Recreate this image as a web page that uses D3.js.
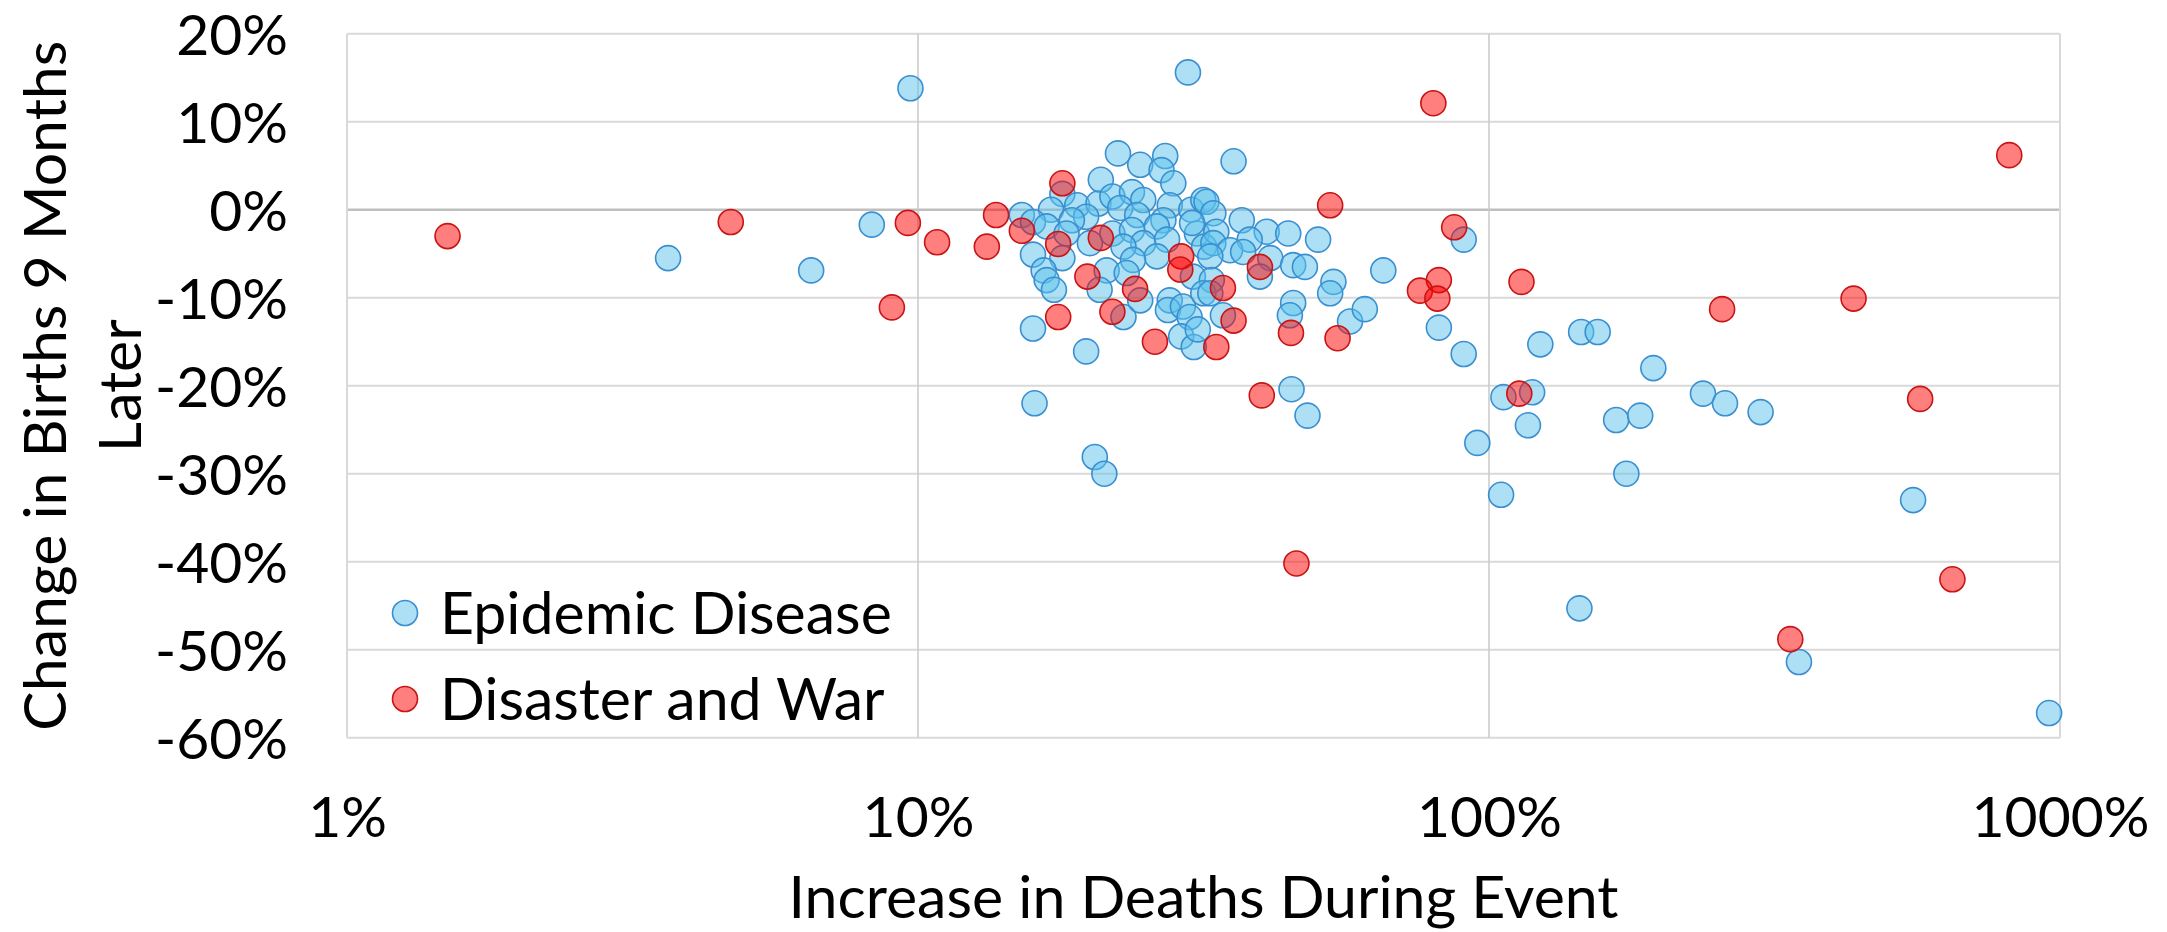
<!DOCTYPE html>
<html>
<head>
<meta charset="utf-8">
<script src="https://cdn.jsdelivr.net/npm/d3@7/dist/d3.min.js"></script>
<style>
    body { margin: 0; background: #fff; }
    text { font-family: Lato, "Open Sans", sans-serif; fill: #000; }
</style>
</head>
<body>
<div id="chart"></div>
<script>
// increase in deaths during event (%), change in births 9 months later (%)
const epidemicDeaths = [
    9.7, 8.3, 3.65, 6.5, 29.7,
    22.4, 24.5, 27.1, 26.7, 28.0, 20.9, 17.9, 19.0, 17.1, 15.2, 15.9, 20.7, 21.9, 23.7, 24.8,
    27.6, 30.1, 31.6, 22.6, 24.2, 26.9, 26.2, 19.7, 18.6, 16.8, 18.2, 21.9, 23.7, 24.8, 22.9,
    20.0, 27.3, 30.8, 31.7, 15.9, 17.9, 26.2, 23.8, 16.6, 16.8, 17.3, 21.4, 23.2, 20.8, 30.3, 27.6,
    35.7, 32.0, 32.9, 30.2, 36.9, 40.8, 44.5, 50.2, 38.1, 33.3, 32.9, 35.2, 37.1, 32.5, 41.4,
    45.4, 47.6, 53.4, 52.7, 65.3, 39.7, 32.7,
    15.9, 19.7, 16.0, 20.4, 21.2, 22.9, 24.5, 27.4, 29.1, 29.9, 28.9, 30.4, 30.9, 31.6,
    45.4, 44.8, 57.1, 60.6, 34.2, 32.5, 45.1, 48.1,
    90.3, 81.7, 90.3, 123, 145, 155, 194, 106, 119, 117, 95.4, 167, 184, 237, 259, 299,
    174, 105, 553, 144, 349, 957
];
const epidemicBirths = [
    13.8, -1.7, -5.5, -6.9, 15.6,
    6.4, 5.1, 6.1, 4.5, 3.0, 3.4, 1.8, 0.5, 0.0, -0.6, -1.4, 0.7, 1.5, 2.0, 1.1,
    0.5, 0.0, 1.1, 0.2, -0.6, -1.2, -1.9, -0.8, -1.2, -1.9, -2.7, -2.7, -2.3, -3.8, -4.2,
    -3.8, -3.4, -2.7, -4.2, -5.1, -5.5, -5.3, -5.7, -6.9, -8.0, -9.1, -6.9, -7.2, -9.1, -7.6, -10.3,
    5.5, 0.9, -0.4, -1.5, -1.2, -2.5, -2.7, -3.4, -3.4, -2.5, -3.8, -4.6, -4.8, -5.3, -5.5,
    -6.3, -6.5, -8.2, -9.5, -6.9, -7.6, -8.0,
    -13.5, -16.1, -22.0, -28.1, -30.0, -12.2, -10.3, -11.4, -11.0, -12.2, -14.4, -15.6, -13.6, -9.5,
    -10.6, -12.0, -12.7, -11.3, -12.0, -9.5, -20.4, -23.4,
    -3.4, -13.4, -16.4, -15.3, -13.9, -13.9, -18.0, -21.3, -20.75, -24.5, -26.5, -23.9, -23.4, -20.9, -22.0, -23.0,
    -30.0, -32.4, -33.0, -45.3, -51.4, -57.2
];
const disasterDeaths = [
    1.5, 4.7, 9.6, 10.8, 9.0, 13.2, 13.7, 15.2, 17.9, 17.6, 17.6, 20.9, 19.8, 24.0,
    28.9, 28.8, 21.9, 26.0, 34.2, 35.7, 33.3, 39.7, 40.0, 45.0, 52.7, 54.3, 46.0,
    79.9, 86.9, 81.7, 75.7, 81.2, 114, 113, 256, 435, 569, 815, 648, 337
];
const disasterBirths = [
    -3.0, -1.4, -1.5, -3.7, -11.1, -4.2, -0.6, -2.4, 3.0, -3.9, -12.2, -3.2, -7.6, -9.0,
    -5.3, -6.8, -11.6, -15.0, -8.9, -12.6, -15.6, -6.5, -21.1, -14.0, 0.5, -14.6, -40.2,
    12.1, -2.0, -8.0, -9.2, -10.1, -8.2, -20.9, -11.3, -10.1, -21.5, 6.2, -42.0, -48.8
];
const seriesNames = ["Epidemic Disease", "Disaster and War"];
const xTicks = [1, 10, 100, 1000];
const yTicks = [-60, -50, -40, -30, -20, -10, 0, 10, 20];
const xTitle = "Increase in Deaths During Event";
const yTitle = ["Change in Births 9 Months", "Later"];

let draw_scatter = draw_chart();
draw_scatter([
    { name: seriesNames[0], points: epidemicDeaths.map((d, i) => [d, epidemicBirths[i]]) },
    { name: seriesNames[1], points: disasterDeaths.map((d, i) => [d, disasterBirths[i]]) }
]);

function draw_chart() {
    const config = {
        width: 2167,
        height: 932,
        left: 347,
        right: 2060,
        top: 33.7,
        bottom: 737.7,
        r: 12.5,
        tickSize: 57,
        textSize: 59,
        styles: [
            { fill: "rgba(91,193,235,0.5)", stroke: "#3a8fd1" },
            { fill: "rgba(255,0,0,0.5)", stroke: "#c81414" }
        ]
    }
    const svg = d3.select("#chart")
        .append("svg")
        .attr("width", config.width)
        .attr("height", config.height)
    const g_grid = svg.append("g")
    const g_axisX = svg.append("g")
        .attr("transform", `translate(0, ${config.bottom})`)
    const g_axisY = svg.append("g")
        .attr("transform", `translate(${config.left}, 0)`)
    const g_circle = svg.append("g")
    const g_legend = svg.append("g")
    const g_text = svg.append("g")

    const scale_x = d3.scaleLog()
        .domain([1, 1000])
        .range([config.left, config.right]);
    const scale_y = d3.scaleLinear()
        .domain([-60, 20])
        .range([config.bottom, config.top]);

    return (series) => {
        draw_grid()
        draw_axis()
        draw_circle(series)
        draw_legend(series)
        draw_titles()
    }

    function draw_grid() {
        g_grid.selectAll("line.h")
            .data(yTicks)
            .join("line")
            .attr("class", "h")
            .attr("x1", config.left)
            .attr("x2", config.right)
            .attr("y1", d => scale_y(d))
            .attr("y2", d => scale_y(d))
            .attr("stroke", d => d == 0 ? "#bfbfbf" : "#d9d9d9")
            .attr("stroke-width", d => d == 0 ? 2.5 : 2)
        g_grid.selectAll("line.v")
            .data(xTicks)
            .join("line")
            .attr("class", "v")
            .attr("x1", d => scale_x(d))
            .attr("x2", d => scale_x(d))
            .attr("y1", config.top)
            .attr("y2", config.bottom)
            .attr("stroke", d => (d == 1 || d == 1000) ? "#d9d9d9" : "#c9c9c9")
            .attr("stroke-width", d => (d == 1 || d == 1000) ? 2 : 1.5)
    }

    function draw_axis() {
        let axis_x = d3.axisBottom()
            .scale(scale_x)
            .tickValues(xTicks)
            .tickFormat(d => d + "%")
            .tickSize(0)
        g_axisX.call(axis_x)
        let axis_y = d3.axisLeft()
            .scale(scale_y)
            .tickValues(yTicks)
            .tickFormat(d => d + "%")
            .tickSize(0)
            .tickPadding(59)
        g_axisY.call(axis_y)

        svg.selectAll(".domain").remove()
        svg.selectAll(".tick text")
            .attr("font-family", "Lato, sans-serif")
            .attr("font-size", config.tickSize)
            .attr("fill", "#000")
        g_axisX.selectAll(".tick text")
            .attr("dy", null)
            .attr("y", 837 - config.bottom)
        g_axisY.selectAll(".tick text")
            .attr("dy", "0.36em")
    }

    function draw_circle(series) {
        g_circle.selectAll("g")
            .data(series)
            .join("g")
            .each(function (s, k) {
                d3.select(this).selectAll("circle")
                    .data(s.points)
                    .join("circle")
                    .attr("cx", d => scale_x(d[0]))
                    .attr("cy", d => scale_y(d[1]))
                    .attr("r", config.r)
                    .attr("fill", config.styles[k].fill)
                    .attr("stroke", config.styles[k].stroke)
                    .attr("stroke-width", 1.6)
            })
    }

    function draw_legend(series) {
        const items = g_legend.selectAll("g")
            .data(series)
            .join("g")
            .attr("transform", (d, i) => `translate(405, ${613 + i * 86})`)
        items.append("circle")
            .attr("r", config.r)
            .attr("fill", (d, i) => config.styles[i].fill)
            .attr("stroke", (d, i) => config.styles[i].stroke)
            .attr("stroke-width", 1.6)
        items.append("text")
            .attr("x", 35)
            .attr("dy", "0.36em")
            .attr("font-size", config.textSize)
            .text(d => d.name)
    }

    function draw_titles() {
        g_text.append("text")
            .attr("x", (config.left + config.right) / 2)
            .attr("y", 918)
            .attr("text-anchor", "middle")
            .attr("font-size", config.textSize)
            .text(xTitle)
        // the vertical title is set in a different face in the original
        g_text.selectAll("text.ytitle")
            .data(yTitle)
            .join("text")
            .attr("class", "ytitle")
            .attr("transform", (d, i) => `translate(${66 + i * 75}, ${(config.top + config.bottom) / 2}) rotate(-90)`)
            .attr("text-anchor", "middle")
            .attr("font-family", "'Open Sans', sans-serif")
            .attr("font-size", 59)
            .text(d => d)
    }
}
</script>
</body>
</html>
